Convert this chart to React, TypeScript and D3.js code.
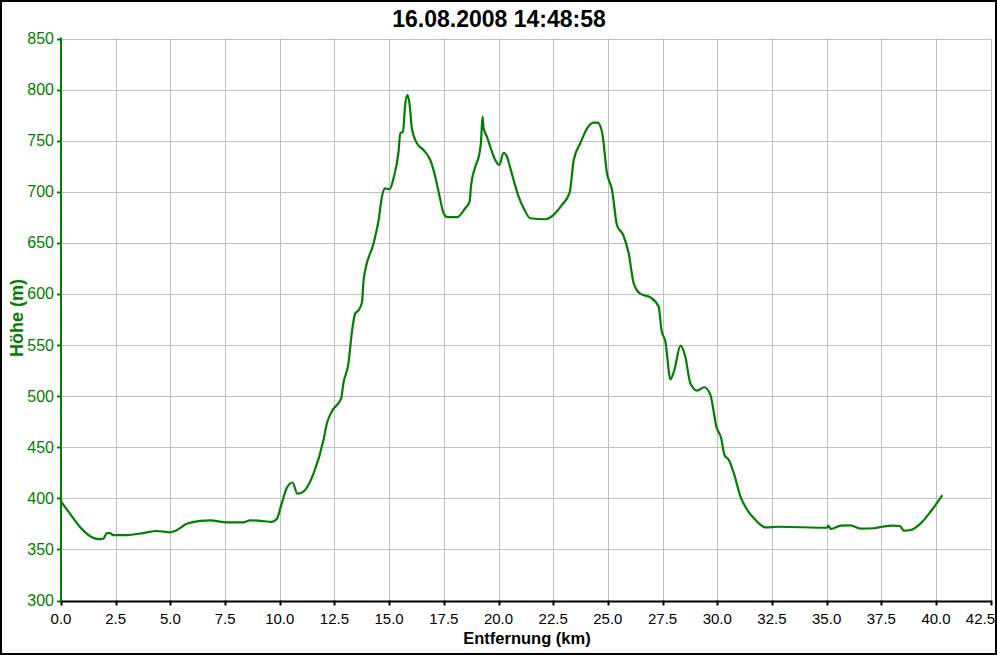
import React from "react";
import * as d3 from "d3";

const TITLE = "16.08.2008 14:48:58";
const X_LABEL = "Entfernung (km)";
const Y_LABEL = "Höhe (m)";

const distanceKm = [
  0.0, 0.41, 0.87, 1.33, 1.71, 1.94, 2.09, 2.24, 2.39, 3.0, 3.77, 4.38, 4.99, 5.21, 5.75, 6.36, 6.82, 7.58,
  8.34, 8.65, 9.1, 9.64, 9.87, 10.09, 10.32, 10.58, 10.81, 11.08, 11.54, 12.0, 12.15, 12.38, 12.81, 12.91,
  13.14, 13.3, 13.45, 13.6, 13.76, 13.83, 13.91, 14.29, 14.52, 14.67, 14.82, 15.02, 15.2, 15.43, 15.51,
  15.63, 15.74, 15.84, 15.93, 16.04, 16.27, 16.57, 16.88, 17.11, 17.31, 17.49, 17.67, 18.1, 18.48, 18.68,
  18.74, 18.94, 19.13, 19.2, 19.27, 19.32, 19.47, 19.7, 19.85, 20.04, 20.23, 20.39, 20.46, 20.69, 20.92,
  21.15, 21.45, 22.14, 22.52, 22.9, 23.25, 23.44, 23.74, 24.05, 24.35, 24.53, 24.73, 24.96, 25.19, 25.42,
  25.7, 25.95, 26.18, 26.49, 26.94, 27.32, 27.45, 27.63, 27.86, 28.04, 28.32, 28.54, 28.77, 29.08, 29.41,
  29.69, 29.96, 30.18, 30.33, 30.53, 30.76, 31.06, 31.37, 31.75, 32.2, 32.81, 35.03, 35.07, 35.2, 35.64,
  36.09, 36.55, 37.16, 37.54, 38.0, 38.35, 38.53, 38.84, 39.3, 39.75, 40.29,
];

const elevationM = [
  397, 385, 372, 363, 360, 360.5, 366, 366, 364, 364, 366, 368, 366.7, 368, 375, 378, 378.5, 376.5,
  376.5, 378.5, 378, 377, 380, 395, 410, 415.5, 404.5, 406.5, 424, 457, 473, 485, 498, 512.6,
  532, 563, 581, 584, 592, 613, 623.5, 649.6, 672.4, 695.2, 703.4, 702.4, 713.2, 739.2, 757.2,
  758.8, 786.6, 794.7, 786.6, 762.1, 747.5, 740.9, 731.1, 714.8, 695.2, 679, 675.1, 675.1, 683.9, 690.3,
  705, 724.6, 737.7, 749, 773.5, 762.1, 753.9, 739.2, 731.1, 726.2, 738.2, 734.3, 729.4, 711.5, 695.2,
  683.9, 674.1, 673.1, 677.4, 687.1, 699.1, 731.1, 747.5, 762.1, 767.6, 767.6, 758.8, 718.1, 701.7, 667,
  657.7, 639.8, 610.4, 600, 596.7, 587.5, 564.7, 553.3, 516.5, 525.6, 549.4, 538.6, 512.6, 505.4, 508.7,
  501, 470.1, 458.7, 442.4, 437.5, 424.5, 401.6, 388.6, 378.8, 371.6, 372.2, 371.2, 373.2, 370, 373.2,
  373.6, 370.3, 370.7, 372.2, 373.2, 372.9, 368.3, 369, 375.5, 386.9, 403.2,
];

const xTicks = [0, 2.5, 5, 7.5, 10, 12.5, 15, 17.5, 20, 22.5, 25, 27.5, 30, 32.5, 35, 37.5, 40, 42.5];
const yTicks = [300, 350, 400, 450, 500, 550, 600, 650, 700, 750, 800, 850];

const W = 997;
const H = 655;
const PLOT = { left: 61, right: 990.7, top: 38.5, bottom: 600.5 };
const GREEN = "#008000";

export default function App() {
  const x = d3.scaleLinear().domain([0, 42.5]).range([PLOT.left, PLOT.right]);
  const y = d3.scaleLinear().domain([300, 850]).range([PLOT.bottom, PLOT.top]);
  const pts: [number, number][] = distanceKm.map((d, i) => [d, elevationM[i]]);
  const line = d3
    .line<[number, number]>()
    .x((d) => x(d[0]))
    .y((d) => y(d[1]))
    .curve(d3.curveMonotoneX);

  return (
    <svg
      width={W}
      height={H}
      style={{ position: "absolute", left: 0, top: 0, background: "#fff" }}
      fontFamily="Arial, 'Liberation Sans', sans-serif"
    >
      <rect x={0} y={0} width={W} height={H} fill="#fff" />
      {xTicks.map((t) => (
        <line key={"gx" + t} x1={Math.round(x(t)) + 0.5} x2={Math.round(x(t)) + 0.5} y1={PLOT.top} y2={PLOT.bottom} stroke="#c0c0c0" strokeWidth={1} />
      ))}
      {yTicks.map((t) => (
        <line key={"gy" + t} x1={PLOT.left} x2={PLOT.right} y1={Math.round(y(t)) + 0.5} y2={Math.round(y(t)) + 0.5} stroke="#c0c0c0" strokeWidth={1} />
      ))}
      <path d={line(pts) || ""} fill="none" stroke={GREEN} strokeWidth={2.2} strokeLinejoin="round" />
      <line x1={PLOT.left} x2={PLOT.right + 1} y1={PLOT.bottom + 1} y2={PLOT.bottom + 1} stroke="#000" strokeWidth={2} />
      {xTicks.map((t, i) => {
        const last = i === xTicks.length - 1;
        return (
          <g key={"xt" + t}>
            <line x1={Math.round(x(t)) + 0.5} x2={Math.round(x(t)) + 0.5} y1={PLOT.bottom} y2={PLOT.bottom + 5} stroke="#000" strokeWidth={2} />
            <text x={last ? 995 : x(t)} y={624} textAnchor={last ? "end" : "middle"} fontSize={15} fill="#000">
              {t.toFixed(1)}
            </text>
          </g>
        );
      })}
      <line x1={PLOT.left} x2={PLOT.left} y1={PLOT.top - 1} y2={PLOT.bottom + 1} stroke={GREEN} strokeWidth={2} />
      {yTicks.map((t) => (
        <g key={"yt" + t}>
          <line x1={PLOT.left - 4} x2={PLOT.left} y1={Math.round(y(t)) + 0.5} y2={Math.round(y(t)) + 0.5} stroke={GREEN} strokeWidth={2} />
          <text x={54} y={y(t) + 5.5} textAnchor="end" fontSize={16} fill={GREEN}>
            {t}
          </text>
        </g>
      ))}
      <text x={499} y={27} textAnchor="middle" fontSize={23} fontWeight="bold" fill="#000">
        {TITLE}
      </text>
      <text x={527} y={644} textAnchor="middle" fontSize={16.5} fontWeight="bold" fill="#000">
        {X_LABEL}
      </text>
      <text
        transform={`translate(23, 318) rotate(-90)`}
        textAnchor="middle"
        fontSize={18}
        fontWeight="bold"
        fill={GREEN}
      >
        {Y_LABEL}
      </text>
      <rect x={1} y={1} width={W - 2} height={H - 2} fill="none" stroke="#000" strokeWidth={2} />
    </svg>
  );
}
